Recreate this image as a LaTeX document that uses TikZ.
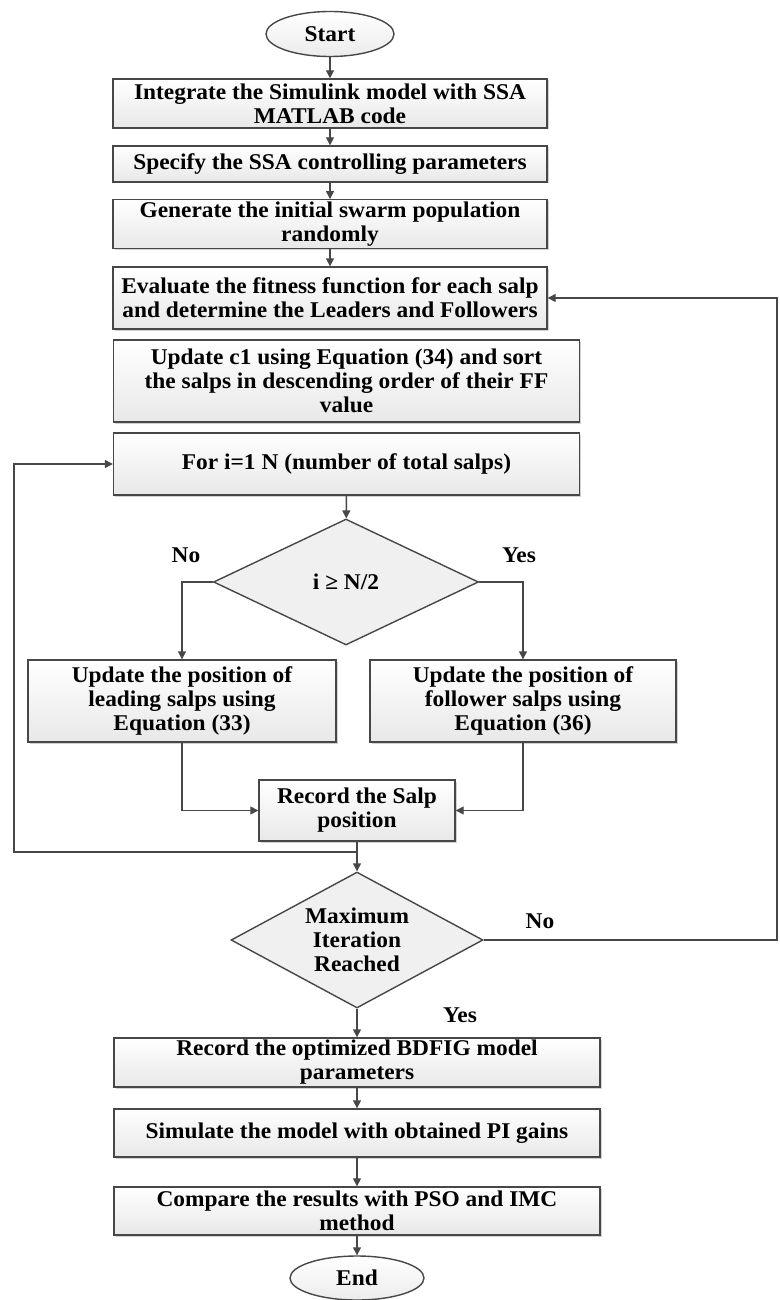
\documentclass[tikz,border=0pt]{standalone}
\usepackage{fontspec}
\setmainfont[FakeStretch=1.04]{Liberation Serif}
\usetikzlibrary{shapes.geometric,shadows,arrows.meta}
\definecolor{ln}{HTML}{474747}
\begin{document}
\begin{tikzpicture}[x=1pt,y=-1pt,
  every node/.style={font=\bfseries\fontsize{22.5}{24}\selectfont, text=black},
  box/.style={rectangle, draw=ln, line width=1.4pt, top color=white, bottom color=gray!18,
     drop shadow={shadow xshift=1.5pt, shadow yshift=-1.5pt, opacity=0.35}, align=center, inner sep=2pt},
  term/.style={ellipse, draw=ln, line width=1.4pt, top color=white, bottom color=gray!15, inner sep=0pt},
  dia/.style={diamond, draw=ln, line width=1.4pt, fill=gray!12, inner sep=0pt},
  lbl/.style={align=center},
  con/.style={draw=ln, line width=1.4pt},
  arr/.style={con, -{Triangle[length=8pt,width=8pt]}}]
\path[use as bounding box, fill=white] (0,0) rectangle (779,1300);

\node[term, minimum width=128, minimum height=45] (start) at (330,34) {Start};
\node[box, minimum width=434, minimum height=49] (b1) at (330,103.5) {Integrate the Simulink model with SSA\\MATLAB code};
\node[box, minimum width=434, minimum height=36] (b2) at (330,164) {Specify the SSA controlling parameters};
\node[box, minimum width=434, minimum height=48] (b3) at (330,224) {Generate the initial swarm population\\randomly};
\node[box, minimum width=434, minimum height=62] (b4) at (330,298) {Evaluate the fitness function for each salp\\and determine the Leaders and Followers};
\node[box, minimum width=466, minimum height=82] (b5) at (346.5,381) {Update c1 using Equation (34) and sort\\the salps in descending order of their FF\\value};
\node[box, minimum width=466, minimum height=62] (b6) at (346.5,464) {For i=1 N (number of total salps)};
\node[dia, minimum width=265, minimum height=126] (d1) at (346,582) {};
\node[lbl] (d1t) at (d1) {i ≥ N/2};
\node[box, minimum width=308, minimum height=82] (b7) at (182,701) {Update the position of\\leading salps using\\Equation (33)};
\node[box, minimum width=306, minimum height=82] (b8) at (523,701) {Update the position of\\follower salps using\\Equation (36)};
\node[box, minimum width=196, minimum height=61] (b9) at (357,810.5) {Record the Salp\\position};
\node[dia, minimum width=252, minimum height=136] (d2) at (357,940) {};
\node[lbl] (d2t) at (d2) {Maximum\\Iteration\\Reached};
\node[box, minimum width=486, minimum height=49] (b10) at (357,1062.5) {Record the optimized BDFIG model\\parameters};
\node[box, minimum width=486, minimum height=48] (b11) at (357,1133) {Simulate the model with obtained PI gains};
\node[box, minimum width=486, minimum height=48] (b12) at (357,1211) {Compare the results with PSO and IMC\\method};
\node[term, minimum width=134, minimum height=44] (end) at (357,1278) {End};

\node[lbl] (no1) at (186,555) {No};
\node[lbl] (yes1) at (519,555) {Yes};
\node[lbl] (no2) at (540,921) {No};
\node[lbl] (yes2) at (460,1015) {Yes};

\coordinate (fr) at (777,298);
\coordinate (j) at (357,852);
\coordinate (lp) at (14,852);

\draw[arr] (start) -- (b1);
\draw[arr] (b1) -- (b2);
\draw[arr] (b2) -- (b3);
\draw[arr] (b3) -- (b4);
\draw[arr] (b6) -- (d1);
\draw[arr] (d1.west) -| (b7.north);
\draw[arr] (d1.east) -| (b8.north);
\draw[arr] (b7.south) |- (b9.west);
\draw[arr] (b8.south) |- (b9.east);
\draw[arr] (b9) -- (d2);
\draw[arr] (j) -- (lp) |- (b6.west);
\draw[arr] (d2.east) -| (fr) -- (b4.east);
\draw[arr] (d2) -- (b10);
\draw[arr] (b10) -- (b11);
\draw[arr] (b11) -- (b12);
\draw[arr] (b12) -- (end);
\end{tikzpicture}
\end{document}
